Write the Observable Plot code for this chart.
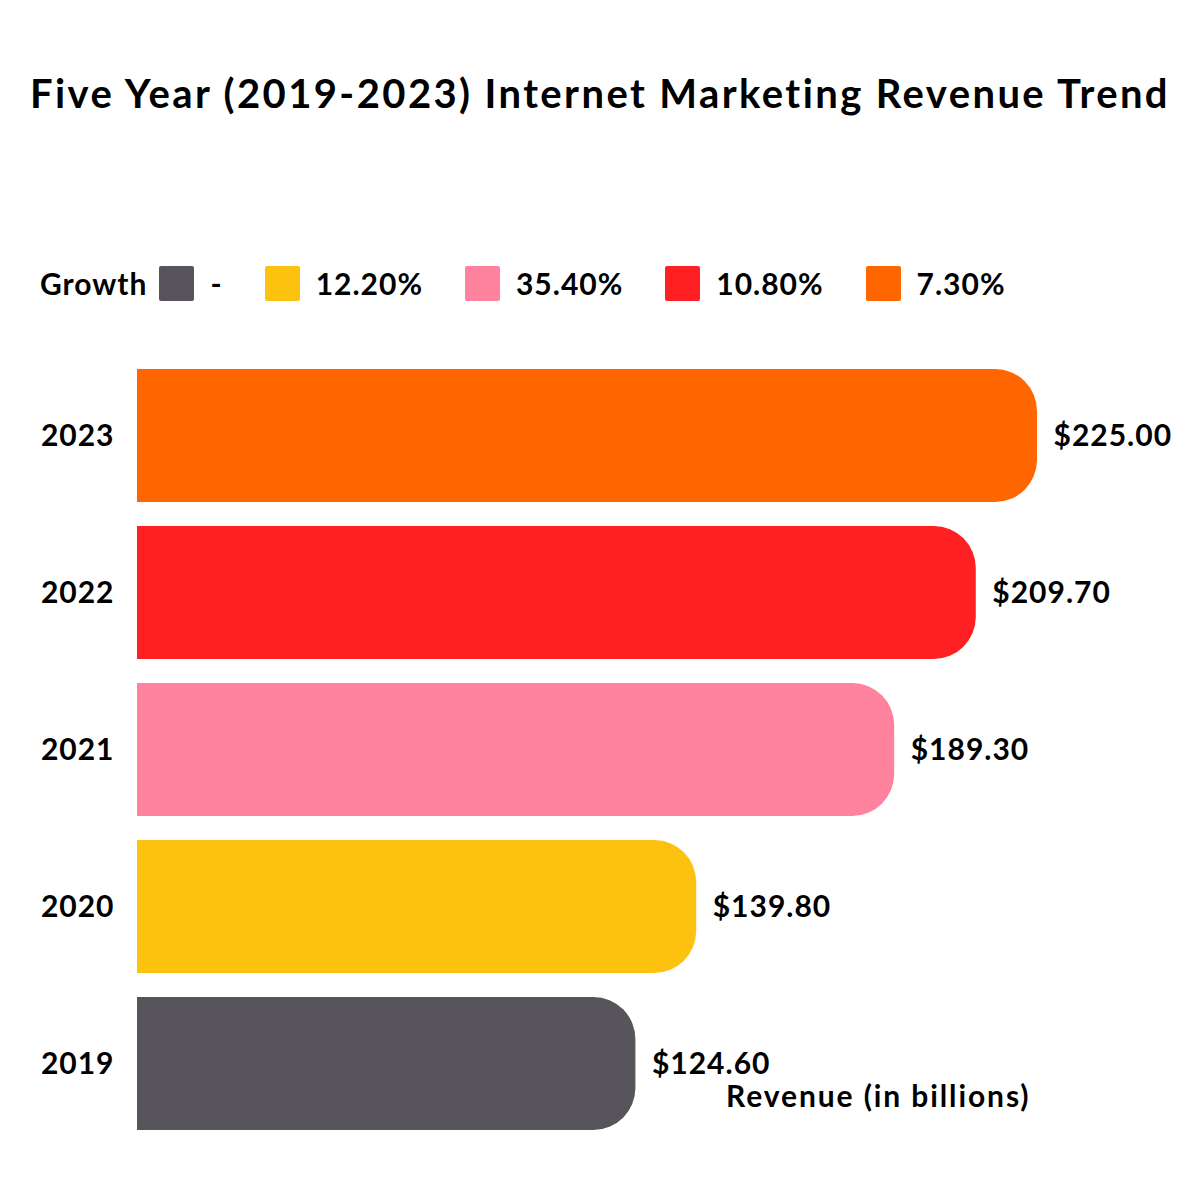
<!DOCTYPE html>
<html>
<head>
<meta charset="utf-8">
<script src="https://cdn.jsdelivr.net/npm/d3@7"></script>
<script src="https://cdn.jsdelivr.net/npm/@observablehq/plot@0.6"></script>
<style>
  html, body { margin: 0; padding: 0; background: #ffffff; }
  #page { position: relative; width: 1200px; height: 1200px; overflow: hidden; background: #fff; font-family: Lato, "Open Sans", sans-serif; color: #000; }
  #title { position: absolute; left: 0; top: 72px; width: 1200px; text-align: center; font-weight: 700; font-size: 40px; line-height: 42px; letter-spacing: 2.4px; white-space: nowrap; }
  #legend { position: absolute; left: 40px; top: 265px; height: 36px; display: flex; align-items: center; font-weight: 700; font-size: 30px; letter-spacing: 1px; }
  #legend .lab { margin-right: 12px; }
  #legend .item { display: flex; align-items: center; margin-right: 42px; }
  #legend .sw { width: 35px; height: 35px; border-radius: 2px; margin-right: 16px; }
  #chart { position: absolute; left: 0; top: 340px; }
</style>
</head>
<body>
<div id="page">
  <div id="title">Five Year (2019-2023) Internet Marketing Revenue Trend</div>
  <div id="legend"></div>
  <div id="chart"></div>
</div>
<script>
const years = ["2019", "2020", "2021", "2022", "2023"];
const revenue = [124.6, 139.8, 189.3, 209.7, 225.0];
const growth = ["-", "12.20%", "35.40%", "10.80%", "7.30%"];
const colors = ["#57545b", "#fdc210", "#ff829e", "#ff2024", "#ff6600"];
const legendTitle = "Growth";
const axisLabel = "Revenue (in billions)";

const data = years.map((y, i) => ({year: y, revenue: revenue[i], growth: growth[i]}));

// Legend (HTML)
const legend = document.getElementById("legend");
const lab = document.createElement("span");
lab.className = "lab";
lab.textContent = legendTitle;
legend.appendChild(lab);
years.forEach((y, i) => {
  const item = document.createElement("span");
  item.className = "item";
  const sw = document.createElement("span");
  sw.className = "sw";
  sw.style.background = colors[i];
  const t = document.createElement("span");
  t.textContent = growth[i];
  item.appendChild(sw);
  item.appendChild(t);
  legend.appendChild(item);
});

const fontStyle = {fontFamily: "Lato, 'Open Sans', sans-serif", fontWeight: 700};

const chart = Plot.plot({
  width: 1200,
  height: 820,
  marginLeft: 137,
  marginRight: 163,
  marginTop: 17,
  marginBottom: 18,
  style: {fontFamily: "Lato, 'Open Sans', sans-serif", fontSize: "30px", color: "#000", background: "transparent", letterSpacing: "1px"},
  x: {domain: [0, 225], axis: null},
  y: {domain: years.slice().reverse(), paddingInner: 0.153, paddingOuter: 0.0765, label: null, tickSize: 0, tickPadding: 23},
  color: {domain: years, range: colors},
  marks: [
    Plot.barX(data, {y: "year", x: "revenue", fill: "year", rx: 42}),
    Plot.barX(data, {y: "year", x: d => d.revenue / 2, fill: "year"}),
    Plot.axisY({tickSize: 0, tickPadding: 23, fontSize: 30, fontWeight: 700, label: null}),
    Plot.text(data, {y: "year", x: "revenue", text: d => "$" + d.revenue.toFixed(2), textAnchor: "start", dx: 16, fontSize: 30, fill: "#000", ...fontStyle}),
    Plot.text([axisLabel], {frameAnchor: "bottom-right", text: d => d, textAnchor: "end", lineAnchor: "middle", dx: -7, dy: -45, fontSize: 30, fill: "#000", ...fontStyle})
  ]
});
d3.select(chart).selectAll("text").filter(function() { return this.textContent === axisLabel; }).style("letter-spacing", "1.9px");
document.getElementById("chart").appendChild(chart);
</script>
</body>
</html>
